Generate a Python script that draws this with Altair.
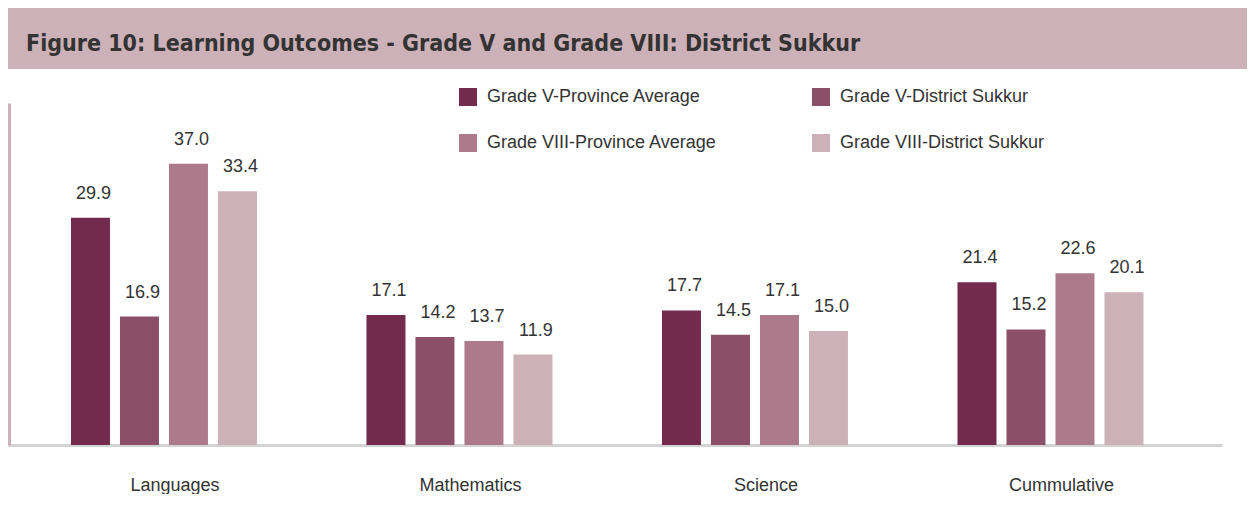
import altair as alt
import pandas as pd

title_text = "Figure 10: Learning Outcomes - Grade V and Grade VIII: District Sukkur"
subjects = ["Languages", "Mathematics", "Science", "Cummulative"]
series = [
    "Grade V-Province Average",
    "Grade V-District Sukkur",
    "Grade VIII-Province Average",
    "Grade VIII-District Sukkur",
]
colors = ["#722B4C", "#8B5068", "#AC7A8B", "#CDB1B9"]
g5_province = [29.9, 17.1, 17.7, 21.4]
g5_district = [16.9, 14.2, 14.5, 15.2]
g8_province = [37.0, 13.7, 17.1, 22.6]
g8_district = [33.4, 11.9, 15.0, 20.1]

rows = []
for s, vals in zip(series, [g5_province, g5_district, g8_province, g8_district]):
    for subj, v in zip(subjects, vals):
        rows.append({"subject": subj, "series": s, "value": v})
df = pd.DataFrame(rows)

FONT = "Liberation Sans"
TXT = "#333333"
PINK = "#CDB1B9"

base = alt.Chart(df)

# header band with the figure title
header = base.transform_filter(
    (alt.datum.subject == subjects[0]) & (alt.datum.series == series[0])
).mark_text(
    align="left", baseline="alphabetic", fontSize=23, fontWeight="bold",
    font="Liberation Sans Narrow, DejaVu Sans Condensed, Roboto Condensed, Liberation Sans",
    color=TXT,
).encode(
    x=alt.value(18), y=alt.value(43), text=alt.value(title_text)
).properties(width=1239, height=61, view=alt.ViewBackground(fill=PINK, strokeWidth=0))

bars = base.mark_bar().encode(
    x=alt.X("subject:N", sort=subjects,
            scale=alt.Scale(paddingInner=0.3706, paddingOuter=0.2394, align=0.445),
            axis=alt.Axis(title=None, domain=True, domainColor="#D3D3D3", domainWidth=3,
                          ticks=False, tickSize=0, labelAngle=0,
                          labelFontSize=18, labelFont=FONT, labelColor=TXT,
                          labelPadding=31, labelOffset=11)),
    xOffset=alt.XOffset("series:N", sort=series,
                        scale=alt.Scale(paddingInner=0.204, paddingOuter=0)),
    y=alt.Y("value:Q", scale=alt.Scale(domain=[0, 45], nice=False),
            axis=alt.Axis(title=None, domain=True, domainColor=PINK, domainWidth=3,
                          labels=False, ticks=False, grid=False, offset=-1)),
    color=alt.Color("series:N", sort=series,
                    scale=alt.Scale(domain=series, range=colors),
                    legend=alt.Legend(orient="none", legendX=451, legendY=80, columns=2,
                                      direction="horizontal",
                                      title=None, symbolType="square", symbolSize=324,
                                      symbolStrokeWidth=0, labelFontSize=18, labelFont=FONT,
                                      labelColor=TXT, labelOffset=10, labelLimit=400,
                                      columnPadding=95, rowPadding=28, padding=0)),
)

labels = base.mark_text(dy=-19, dx=3, baseline="alphabetic", fontSize=18, font=FONT, color=TXT).encode(
    x=alt.X("subject:N", sort=subjects),
    xOffset=alt.XOffset("series:N", sort=series),
    y=alt.Y("value:Q"),
    text=alt.Text("value:Q", format=".1f"),
)

main = alt.layer(bars, labels).properties(width=1214, height=342)

chart = alt.vconcat(header, main, spacing=34, bounds="flush", padding=0).configure_view(strokeWidth=0)

chart.save("out.html", embed_options={"renderer": "svg", "actions": False})
